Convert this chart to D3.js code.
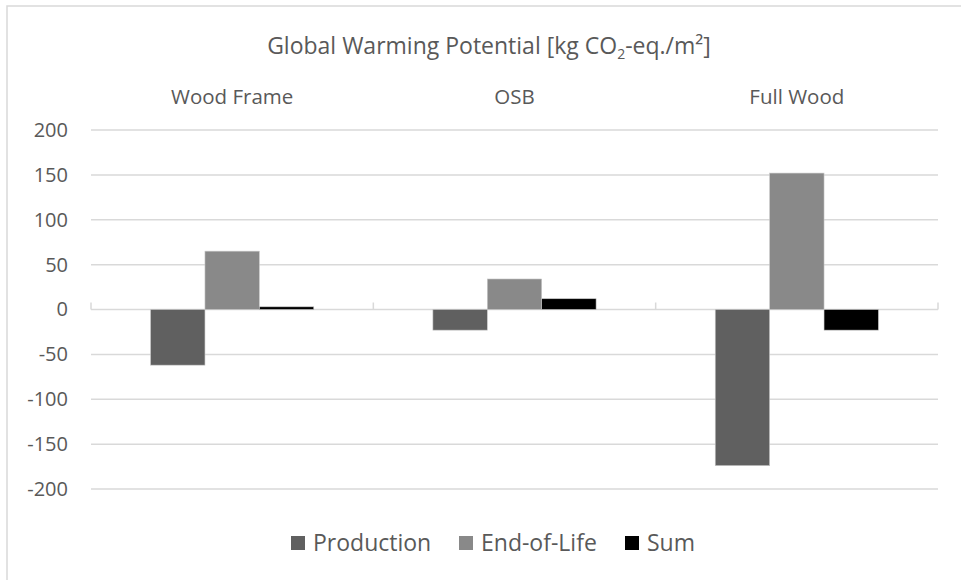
<!DOCTYPE html>
<html><head><meta charset="utf-8">
<script src="https://cdn.jsdelivr.net/npm/d3@7"></script>
<style>body{margin:0;background:#fff;} text{font-family:"Open Sans",sans-serif;fill:#595959;}</style>
</head><body>
<svg id="c" width="961" height="580"></svg>
<script>
const categories = ["Wood Frame", "OSB", "Full Wood"];
const seriesNames = ["Production", "End-of-Life", "Sum"];
const production = [-62, -23, -174];
const endOfLife = [65, 34, 152];
const sum = [3, 12, -23];
const tickValues = [-200, -150, -100, -50, 0, 50, 100, 150, 200];
const colors = ["#606060", "#898989", "#000000"];

(function () {
const series = [production, endOfLife, sum];
const svg = d3.select("#c");
const pLeft = 91, pRight = 938, pTop = 130, pBottom = 489;
const FONT = "'Open Sans', sans-serif";

// outer border
svg.append("rect").attr("x", 7).attr("y", 6).attr("width", 970).attr("height", 600)
  .attr("fill", "none").attr("stroke", "#d9d9d9").attr("stroke-width", 1.5);

const y = d3.scaleLinear().domain([-200, 200]).range([pBottom, pTop]);
const x0 = d3.scaleBand().domain(categories).range([pLeft, pRight]).paddingInner(0).paddingOuter(0);

// gridlines
tickValues.forEach(v => {
  svg.append("line").attr("x1", pLeft).attr("x2", pRight).attr("y1", y(v)).attr("y2", y(v))
    .attr("stroke", "#d9d9d9").attr("stroke-width", 1.5);
});
// category ticks at zero line
const bounds = [pLeft, ...categories.slice(1).map(c => x0(c)), pRight];
bounds.forEach(bx => {
  svg.append("line").attr("x1", bx).attr("x2", bx).attr("y1", y(0)).attr("y2", y(0) - 7)
    .attr("stroke", "#d9d9d9").attr("stroke-width", 1.5);
});

// y axis labels
const yAxis = d3.axisLeft(y).tickValues(tickValues).tickFormat(d => String(d)).tickSize(0).tickPadding(23);
const ya = svg.append("g").attr("transform", `translate(${pLeft},0)`).call(yAxis);
ya.select(".domain").remove();
ya.selectAll("text").style("font-size", "20px").attr("fill", "#595959").style("font-family", FONT);

// bars
const bw = x0.bandwidth() / (3 + 2.19);
categories.forEach((c, i) => {
  series.forEach((s, j) => {
    const v = s[i];
    const bx = x0(c) + x0.bandwidth() / 2 + (j - 1.5) * bw;
    svg.append("rect").attr("x", bx).attr("width", bw)
      .attr("y", y(Math.max(0, v))).attr("height", Math.abs(y(v) - y(0)))
      .attr("fill", colors[j]).attr("stroke", "#c8c8c8").attr("stroke-width", 0.6);
  });
});

// category headers
const xAxis = d3.axisTop(x0).tickSize(0).tickPadding(0);
const xa = svg.append("g").attr("transform", `translate(0,104)`).call(xAxis);
xa.select(".domain").remove();
xa.selectAll("text").style("font-size", "20.5px").attr("fill", "#595959").style("font-family", FONT);

// title
const t = svg.append("text").attr("x", 489).attr("y", 54).attr("text-anchor", "middle")
  .style("font-size", "23px");
t.append("tspan").text("Global Warming Potential [kg CO");
t.append("tspan").text("2").attr("dy", 5).style("font-size", "14px");
t.append("tspan").text("-eq./m²]").attr("dy", -5);

// legend
const legX = [291, 459, 625];
seriesNames.forEach((n, j) => {
  svg.append("rect").attr("x", legX[j]).attr("y", 536).attr("width", 14).attr("height", 14).attr("fill", colors[j]);
  svg.append("text").attr("x", legX[j] + 22).attr("y", 551).style("font-size", "23px").text(n);
});
})();
</script>
</body></html>
